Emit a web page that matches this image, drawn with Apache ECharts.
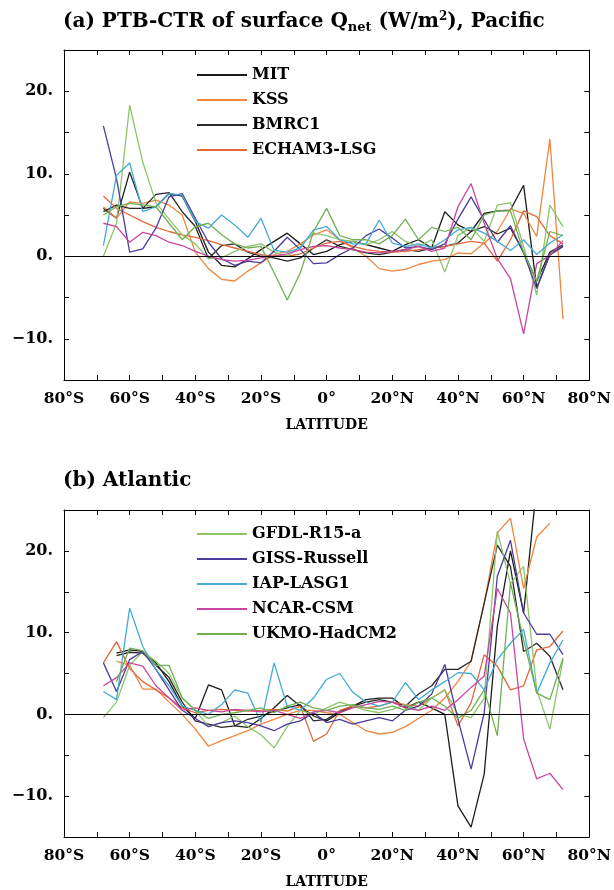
<!DOCTYPE html>
<html>
<head>
<meta charset="utf-8">
<script src="https://cdn.jsdelivr.net/npm/echarts@6/dist/echarts.min.js"></script>
<style>
  html, body { margin: 0; padding: 0; background: #fff; }
  #main { width: 614px; height: 890px; }
</style>
</head>
<body>
<div id="main"></div>
<script>
"use strict";
// latitudes of the model points (4 deg bins)
var lats = [-68, -64, -60, -56, -52, -48, -44, -40, -36, -32, -28, -24, -20, -16, -12, -8, -4, 0,
  4, 8, 12, 16, 20, 24, 28, 32, 36, 40, 44, 48, 52, 56, 60, 64, 68, 72];

// x / y tick labels
var xTickValues = [-80, -60, -40, -20, 0, 20, 40, 60, 80];
var xTickLabels = ["80°S", "60°S", "40°S", "20°S", "0°", "20°N", "40°N", "60°N", "80°N"];
var yTickValues = [20, 10, 0, -10];
var yTickLabels = ["20.", "10.", "0.", "−10."];

// model names + colours
var models = ["MIT", "KSS", "BMRC1", "ECHAM3-LSG", "GFDL-R15-a", "GISS-Russell", "IAP-LASG1", "NCAR-CSM", "UKMO-HadCM2"];
var colors = ["#1c1c1c", "#ee8640", "#2a2a2a", "#e2683a", "#8cc46a", "#4c3c9c", "#44aad6", "#c8469e", "#70b054"];
var legendA = ["MIT", "KSS", "BMRC1", "ECHAM3-LSG"];
var legendB = ["GFDL-R15-a", "GISS-Russell", "IAP-LASG1", "NCAR-CSM", "UKMO-HadCM2"];

/** (a) Pacific, PTB-CTR surface Qnet (W/m2) **/
var pacMIT = [5.8, 4.6, 10.2, 5.8, 6.0, 7.6, 7.3, 4.2, 0.5, -1.1, -1.3, -0.3, 0.8, 1.8, 2.8, 1.5, 0.2, 0.6,
  1.4, 1.8, 1.4, 1.0, 0.6, 1.4, 2.0, 1.0, 5.4, 3.8, 3.0, 5.2, 5.5, 5.6, 8.6, -3.8, 0.2, 1.2];
var pacKSS = [6.0, 4.6, 6.6, 6.4, 6.8, 6.2, 5.0, 0.5, -1.5, -2.8, -3.0, -1.8, -0.8, 0.2, 0.6, 1.5, 2.6, 3.2,
  2.0, 1.0, 0.0, -1.5, -1.8, -1.6, -1.0, -0.6, -0.4, 0.4, 0.3, 1.6, 3.0, 5.7, 5.2, 2.4, 14.2, -7.6];
var pacBMRC1 = [5.4, 6.2, 5.8, 5.8, 7.5, 7.7, 5.4, 3.6, -0.3, 1.3, 1.5, 0.5, 0.0, -0.2, -0.6, -0.2, 1.0, 2.0,
  1.2, 0.8, 0.4, 0.2, 0.5, 0.8, 0.6, 1.0, 1.2, 1.6, 3.0, 3.6, 2.7, 3.4, 0.5, -3.0, 0.5, 1.4];
var pacECHAM = [7.3, 5.8, 5.0, 4.2, 3.5, 3.0, 2.6, 2.3, 1.9, 1.4, 1.0, 0.6, 0.2, 0.0, 0.0, 0.3, 1.0, 1.6,
  1.8, 1.2, 0.8, 0.6, 0.5, 0.6, 0.8, 1.0, 1.2, 1.5, 1.8, 1.6, -0.6, 2.0, 5.5, 4.8, 2.5, 1.5];
var pacGFDL = [0.0, 4.0, 18.3, 11.4, 6.5, 4.5, 2.6, 1.5, -0.3, -0.2, 0.6, 1.2, 1.5, 0.5, 0.0, 1.2, 2.8, 2.5,
  2.0, 1.8, 1.4, 2.0, 3.0, 1.8, 1.2, 2.0, -1.9, 2.5, 3.5, 1.8, 6.2, 6.5, 1.2, -4.7, 6.2, 3.6];
var pacGISS = [15.8, 9.4, 0.5, 0.9, 3.4, 7.2, 7.6, 4.6, 1.7, -0.3, -1.1, -0.6, -0.8, 0.6, 2.3, 0.8, -0.9, -0.8,
  0.2, 1.0, 2.5, 3.3, 2.2, 1.0, 1.2, 0.8, 1.5, 4.5, 7.2, 4.4, 1.7, 3.7, 0.4, -3.9, 0.2, 1.2];
var pacIAP = [1.3, 9.8, 11.3, 5.4, 6.0, 7.6, 7.4, 4.2, 3.4, 5.0, 3.8, 2.3, 4.6, 0.7, 0.5, 1.0, 3.2, 3.6,
  2.0, 1.5, 1.5, 4.4, 1.6, 1.2, 1.5, 1.0, 2.0, 3.2, 3.5, 2.8, 1.8, 0.7, 2.0, 0.2, 1.6, 2.6];
var pacNCAR = [4.0, 3.6, 1.7, 2.9, 2.5, 1.7, 1.3, 0.6, 0.0, -0.4, -0.6, -0.5, -0.2, 0.0, 0.3, 0.8, 1.2, 1.3,
  1.0, 0.8, 0.5, 0.4, 0.6, 0.8, 1.2, 0.6, 1.0, 6.0, 8.8, 4.0, -0.3, -2.7, -9.4, -0.9, 0.1, 1.9];
var pacUKMO = [5.0, 6.0, 6.4, 6.2, 6.0, 4.0, 2.0, 3.6, 4.0, 2.6, 1.5, 1.0, 1.2, -2.0, -5.3, -2.0, 3.0, 5.8,
  2.5, 2.0, 2.0, 1.5, 2.5, 4.5, 2.0, 3.5, 3.0, 3.5, 2.0, 5.0, 5.5, 5.5, 0.5, -3.0, 3.0, 2.5];

/** (b) Atlantic **/
var atlMIT = [null, 7.5, 7.9, 7.7, 6.3, 4.0, 1.0, -0.5, 3.6, 3.0, -1.4, -1.6, -0.5, 0.8, 2.3, 1.0, -0.2, -0.8,
  0.2, 1.0, 1.8, 2.0, 2.0, 0.8, 1.5, 0.8, 0.0, -11.2, -13.8, -7.3, 10.8, 20.0, 12.4, 28.0, 30.0, 30.0];
var atlKSS = [null, 6.5, 6.0, 3.1, 3.1, 1.5, 0.0, -1.8, -3.9, -3.2, -2.6, -2.0, -1.2, -0.6, 0.0, 0.5, 0.5, 0.2,
  0.0, -1.0, -2.0, -2.4, -2.2, -1.5, -0.5, 0.5, 2.0, 4.0, 6.5, 13.6, 22.2, 24.0, 15.4, 21.7, 23.4, null];
var atlBMRC1 = [null, 7.2, 7.6, 7.5, 6.0, 4.5, 1.5, -0.8, -1.2, -1.6, -1.4, -0.6, -0.2, 0.4, 0.8, 1.2, -0.8, -0.6,
  0.4, 1.0, 1.5, 1.8, 1.5, 1.0, 2.5, 3.5, 5.5, 5.5, 6.5, 13.6, 20.7, 18.1, 7.7, 8.7, 7.1, 3.0];
var atlECHAM = [6.3, 8.9, 5.6, 4.0, 3.0, 2.0, 0.8, 0.2, 0.5, 0.6, 0.5, 0.4, 0.5, 0.6, 0.4, 1.0, -3.3, -2.4,
  0.5, 1.0, 0.8, 1.0, 1.5, 1.2, 1.0, 2.0, 3.0, -1.4, 1.4, 7.3, 5.9, 3.0, 3.5, 7.9, 8.3, 10.2];
var atlGFDL = [-0.4, 1.5, 6.0, 7.7, 6.5, 5.0, 2.0, 0.5, -1.5, -1.0, -0.2, -1.5, -2.5, -4.1, -1.5, 0.5, 0.0, 0.8,
  1.5, 1.0, 0.5, 0.2, 0.6, 1.2, 0.5, 2.0, 3.0, 0.0, -0.4, 2.0, 22.4, 16.0, 18.1, 3.0, -1.8, 6.7];
var atlGISS = [6.3, 2.8, 6.7, 7.7, 5.5, 3.0, 0.5, -0.5, -1.5, -1.0, -0.8, -1.0, -1.4, -2.0, -1.2, -0.8, 0.2, -1.0,
  -0.6, -1.2, -0.8, -0.4, -0.8, 0.5, 1.0, 2.5, 6.1, -0.6, -6.7, 0.2, 16.9, 21.3, 12.4, 9.8, 9.8, 7.3];
var atlIAP = [2.8, 1.8, 13.0, 8.3, 5.5, 3.5, 1.0, 0.5, 0.0, 1.2, 3.0, 2.6, -1.0, 6.3, 1.0, 0.5, 2.0, 4.3,
  5.0, 2.7, 1.5, 1.0, 1.5, 3.9, 1.8, 3.0, 4.0, 5.1, 5.0, 3.0, 6.7, 8.7, 10.4, 2.6, 6.3, 9.1];
var atlNCAR = [3.5, 4.5, 6.3, 5.9, 3.5, 2.0, 0.5, 0.8, 0.5, 0.3, 0.6, 0.5, 0.3, 0.5, 0.0, -0.5, 0.3, 0.5,
  0.2, 0.8, 1.2, 1.6, 1.5, 0.8, 0.5, 1.0, 0.5, 1.8, 3.3, 4.7, 15.4, 12.4, -3.0, -7.9, -7.2, -9.2];
var atlUKMO = [null, 4.0, 8.1, 7.8, 6.0, 6.0, 2.0, 0.5, -0.5, 0.0, 0.2, 0.5, 0.8, 0.2, 1.0, 1.5, 0.8, 0.5,
  1.0, 1.2, 0.8, 0.6, 1.0, 0.5, 1.5, 2.0, 1.0, -0.5, 0.5, 3.0, -2.6, 16.1, 9.1, 2.6, 1.8, 6.9];

var pacData = [pacMIT, pacKSS, pacBMRC1, pacECHAM, pacGFDL, pacGISS, pacIAP, pacNCAR, pacUKMO];
var atlData = [atlMIT, atlKSS, atlBMRC1, atlECHAM, atlGFDL, atlGISS, atlIAP, atlNCAR, atlUKMO];

var FONT = "'DejaVu Serif', serif";

function pairs(vals) {
  var out = [];
  for (var i = 0; i < lats.length; i++) {
    if (vals[i] !== null) out.push([lats[i], vals[i]]);
  }
  return out;
}

function xLabel(v) {
  var k = xTickValues.indexOf(v);
  return k < 0 ? "" : xTickLabels[k];
}
function yLabel(v) {
  var k = yTickValues.indexOf(v);
  return k < 0 ? "" : yTickLabels[k];
}

function xAxisPair(gridIndex) {
  var common = {
    type: "value", gridIndex: gridIndex, min: -80, max: 80, interval: 10,
    axisLine: { show: true, onZero: false, lineStyle: { color: "#000", width: 1 } },
    axisTick: { show: true, inside: true, length: 5, lineStyle: { color: "#000" } },
    splitLine: { show: false }
  };
  var bottom = Object.assign({}, common, {
    position: "bottom",
    name: "LATITUDE", nameLocation: "middle", nameGap: 38,
    nameTextStyle: { fontFamily: FONT, fontWeight: "bold", fontSize: 14, color: "#000" },
    axisLabel: { formatter: xLabel, margin: 11, fontFamily: FONT, fontWeight: "bold", fontSize: 15.5, color: "#000" }
  });
  var top = Object.assign({}, common, { position: "top", axisLabel: { show: false } });
  return [bottom, top];
}

function yAxisPair(gridIndex) {
  var common = {
    type: "value", gridIndex: gridIndex, min: -15, max: 25, interval: 5,
    axisLine: { show: true, onZero: false, lineStyle: { color: "#000", width: 1 } },
    axisTick: { show: true, inside: true, length: 5, lineStyle: { color: "#000" } },
    splitLine: { show: false }
  };
  var left = Object.assign({}, common, {
    position: "left",
    axisLabel: { formatter: yLabel, margin: 11, fontFamily: FONT, fontWeight: "bold", fontSize: 16, color: "#000" }
  });
  var right = Object.assign({}, common, { position: "right", axisLabel: { show: false } });
  return [left, right];
}

function buildSeries(dataSets, axisIdx) {
  return dataSets.map(function (vals, k) {
    var s = {
      name: models[k], type: "line",
      xAxisIndex: axisIdx, yAxisIndex: axisIdx,
      data: pairs(vals),
      symbol: "none", clip: true,
      lineStyle: { color: colors[k], width: 1.3 },
      itemStyle: { color: colors[k] },
      z: 3
    };
    if (k === 0) {
      s.markLine = {
        silent: true, symbol: "none", label: { show: false },
        lineStyle: { color: "#000", width: 1, type: "solid" },
        data: [{ yAxis: 0 }]
      };
    }
    return s;
  });
}

var legendCommon = {
  orient: "vertical", left: 192, padding: [2, 4],
  backgroundColor: "#fff",
  itemWidth: 50, itemHeight: 14, itemGap: 9,
  selectedMode: false,
  itemStyle: { opacity: 0 },
  textStyle: { fontFamily: FONT, fontWeight: "bold", fontSize: 16, color: "#000", lineHeight: 14 }
};

var chart = echarts.init(document.getElementById("main"));
chart.setOption({
  animation: false,
  backgroundColor: "#fff",
  title: [
    {
      left: 58, top: 5,
      text: "(a) PTB-CTR of surface Q{sub|net} (W/m{sup|2}), Pacific",
      textStyle: {
        fontFamily: FONT, fontWeight: "bold", fontSize: 20, color: "#000",
        rich: {
          sub: { fontFamily: FONT, fontWeight: "bold", fontSize: 13, color: "#000", padding: [11, 0, 0, 0] },
          sup: { fontFamily: FONT, fontWeight: "bold", fontSize: 12, color: "#000", padding: [0, 0, 11, 0] }
        }
      }
    },
    {
      left: 58, top: 466,
      text: "(b) Atlantic",
      textStyle: { fontFamily: FONT, fontWeight: "bold", fontSize: 20, color: "#000" }
    }
  ],
  legend: [
    Object.assign({}, legendCommon, { top: 65, data: legendA }),
    Object.assign({}, legendCommon, { top: 524, data: legendB })
  ],
  grid: [
    { left: 64, right: 17, top: 50, height: 330 },
    { left: 64, right: 17, top: 510, height: 328 }
  ],
  xAxis: xAxisPair(0).concat(xAxisPair(1)),
  yAxis: yAxisPair(0).concat(yAxisPair(1)),
  series: buildSeries(pacData, 0).concat(buildSeries(atlData, 2))
});
</script>
</body>
</html>
